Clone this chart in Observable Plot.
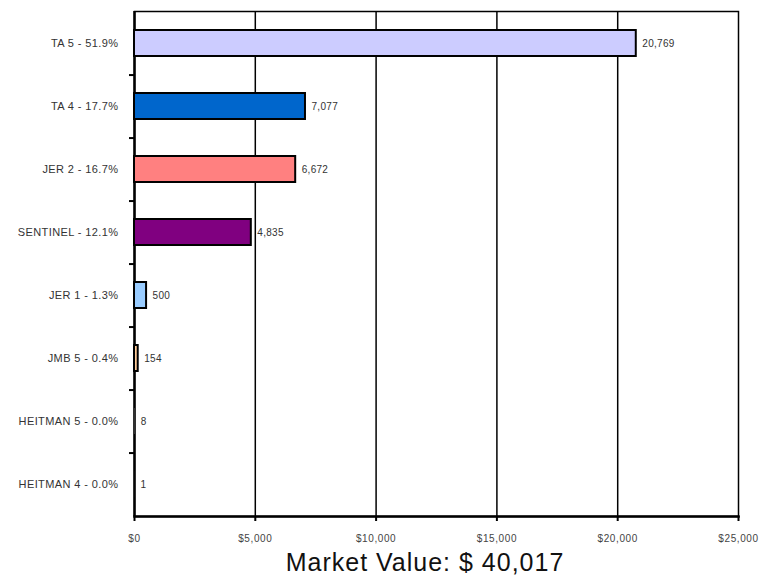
<!DOCTYPE html>
<html>
<head>
<meta charset="utf-8">
<script src="https://cdn.jsdelivr.net/npm/d3@7"></script>
<script src="https://cdn.jsdelivr.net/npm/@observablehq/plot@0.6"></script>
<style>
  body { margin: 0; background: #fff; font-family: "Liberation Sans", Arial, sans-serif; }
  #title { width: 604px; margin-left: 123px; text-align: center; font-size: 25px; line-height: 28px; letter-spacing: 1px; color: #111; }
  .ylab text { letter-spacing: 0.4px; }
  .xlab text { letter-spacing: 0.6px; }
  .vlab text { letter-spacing: 0.3px; }
</style>
</head>
<body>
<div id="chart"></div>
<div id="title">Market Value: $ 40,017</div>
<script>
const categories = ["TA 5 - 51.9%", "TA 4 - 17.7%", "JER 2 - 16.7%", "SENTINEL - 12.1%", "JER 1 - 1.3%", "JMB 5 - 0.4%", "HEITMAN 5 - 0.0%", "HEITMAN 4 - 0.0%"];
const values = [20769, 7077, 6672, 4835, 500, 154, 8, 1];
const colors = ["#CCCCFF", "#0066CC", "#FF8080", "#800080", "#99CCFF", "#FFCC99", "#FFFFFF", "#FFFFFF"];
const xTicks = [0, 5000, 10000, 15000, 20000, 25000];

const data = categories.map((name, i) => ({name, value: values[i], color: colors[i]}));
const fmt = d3.format(",");
const step = (516 - 11) / categories.length;

const chart = Plot.plot({
  width: 760,
  height: 548,
  marginTop: 11,
  marginBottom: 32,
  marginLeft: 134,
  marginRight: 22,
  style: {fontFamily: "'Liberation Sans', Arial, sans-serif", color: "#333", background: "#fff"},
  x: {domain: [0, 25000]},
  y: {domain: categories, paddingInner: 0.59, paddingOuter: 0.295},
  marks: [
    Plot.ruleX(xTicks.slice(1, -1), {stroke: "black", strokeWidth: 1.5}),
    Plot.frame({stroke: "black", strokeWidth: 1.5}),
    Plot.ruleX([0], {stroke: "black", strokeWidth: 2.5}),
    Plot.frame({anchor: "bottom", stroke: "black", strokeWidth: 2.5}),
    Plot.ruleY(categories.slice(0, -1), {y: d => d, x1: 0, x2: 0, insetLeft: -5, dy: step / 2, stroke: "black", strokeWidth: 2}),
    Plot.barX(data, {x: "value", y: "name", fill: "color", stroke: d => d.value < 20 ? "none" : "black", strokeWidth: 2}),
    Plot.text(data, {x: "value", y: "name", text: d => fmt(d.value), dx: 6, textAnchor: "start", fontSize: 10, fill: "#333", className: "vlab"}),
    Plot.axisY({tickSize: 0, tickPadding: 16, fontSize: 11, label: null, fill: "#333", className: "ylab"}),
    Plot.axisX({ticks: xTicks, tickFormat: d => "$" + fmt(d), tickSize: 5, tickPadding: 13, fontSize: 10, label: null, stroke: "black", strokeWidth: 2, fill: "#444", className: "xlab"})
  ]
});
document.getElementById("chart").appendChild(chart);
</script>
</body>
</html>
